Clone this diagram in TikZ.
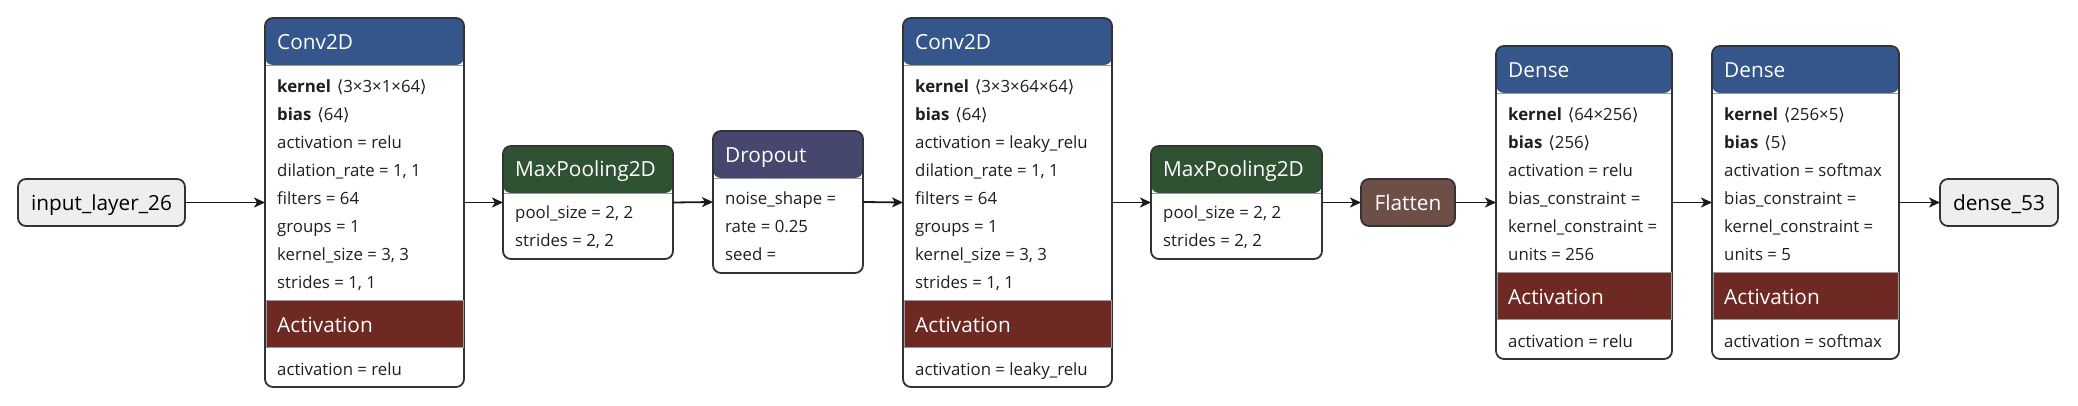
\documentclass[tikz,border=0pt]{standalone}
\usepackage{fontspec}
\setmainfont{Open Sans}
\newfontfamily\brkfont{DejaVu Sans}
\usepackage{tikz}
\usetikzlibrary{arrows.meta}

\definecolor{edgegray}{HTML}{333333}
\definecolor{iofill}{HTML}{EEEEEE}
\definecolor{convblue}{HTML}{34568A}
\definecolor{poolgreen}{HTML}{2F5233}
\definecolor{dropviolet}{HTML}{45476F}
\definecolor{actred}{HTML}{6E2923}
\definecolor{flatbrown}{HTML}{6D4F47}

\newcommand{\shp}[1]{\hspace{0.35em}{\brkfont ⟨}#1{\brkfont ⟩}}

\tikzset{
    layer/.style={draw=edgegray, line width=1.8pt, rounded corners=8pt, fill=white,
        inner sep=0pt, outer sep=0pt, anchor=north west,
        path picture={
            \fill[#1] (path picture bounding box.north west) rectangle ([yshift=-47pt]path picture bounding box.north east);
            \draw[black!40, line width=0.8pt] ([yshift=-47pt]path picture bounding box.north west) -- ([yshift=-47pt]path picture bounding box.north east);
        }},
    io/.style={draw=edgegray, line width=1.8pt, rounded corners=8pt, fill=#1,
        inner sep=0pt, outer sep=0pt, anchor=north west, minimum height=47pt,
        text height=17pt, text depth=0pt, font=\fontsize{20.8}{24}\selectfont},
    actband/.style={fill=actred, draw=black!40, line width=0.6pt, inner sep=0pt, outer sep=0pt,
        anchor=north west, minimum height=47pt},
    title/.style={anchor=base west, text=white, inner sep=0pt, font=\fontsize{20.8}{24}\selectfont},
    prop/.style={anchor=base west, inner sep=0pt, text=black!88, font=\fontsize{16.8}{20}\selectfont},
    flow/.style={draw=black!90, line width=1.8pt}
}

\begin{document}
\begin{tikzpicture}[x=1pt, y=-1pt, >={Stealth[length=11pt, width=10pt, inset=3pt]}]
    \useasboundingbox (0,0) rectangle (2078,406);

    \node[io=iofill, minimum width=167pt] (input) at (18,179) {input\_layer\_26};
    \node[io=flatbrown, text=white, minimum width=94pt] (flatten) at (1361,179) {Flatten};
    \node[io=iofill, minimum width=118pt] (output) at (1940,179) {dense\_53};

    % first conv block
    \node[layer=convblue, minimum width=199pt, minimum height=369pt] (conv1) at (265,18) {};
    \node[actband, minimum width=197.2pt] (conv1act) at (265.9,300) {};
    \node[title] (conv1t) at (277,50) {Conv2D};
    \node[title] (conv1at) at (277,332) {Activation};
    \foreach \t [count=\i from 0] in {{\textbf{kernel}\shp{3×3×1×64}}, {\textbf{bias}\shp{64}}, {activation = relu}, {dilation\_rate = 1, 1}, {filters = 64}, {groups = 1}, {kernel\_size = 3, 3}, {strides = 1, 1}}
        \node[prop] (conv1r\i) at (277,92.5+28*\i) {\t};
    \node[prop] (conv1ar) at (277,375) {activation = relu};

    \node[layer=poolgreen, minimum width=170pt, minimum height=113pt] (pool1) at (503,146) {};
    \node[title] (pool1t) at (515,177) {MaxPooling2D};
    \node[prop] (pool1r0) at (515,219) {pool\_size = 2, 2};
    \node[prop] (pool1r1) at (515,247) {strides = 2, 2};

    \node[layer=dropviolet, minimum width=150pt, minimum height=142pt] (drop) at (713,131) {};
    \node[title] (dropt) at (725,163) {Dropout};
    \foreach \t [count=\i from 0] in {{noise\_shape =}, {rate = 0.25}, {seed =}}
        \node[prop] (dropr\i) at (725,205+28*\i) {\t};

    % second conv block
    \node[layer=convblue, minimum width=209pt, minimum height=369pt] (conv2) at (903,18) {};
    \node[actband, minimum width=207.2pt] (conv2act) at (903.9,300) {};
    \node[title] (conv2t) at (915,50) {Conv2D};
    \node[title] (conv2at) at (915,332) {Activation};
    \foreach \t [count=\i from 0] in {{\textbf{kernel}\shp{3×3×64×64}}, {\textbf{bias}\shp{64}}, {activation = leaky\_relu}, {dilation\_rate = 1, 1}, {filters = 64}, {groups = 1}, {kernel\_size = 3, 3}, {strides = 1, 1}}
        \node[prop] (conv2r\i) at (915,92.5+28*\i) {\t};
    \node[prop] (conv2ar) at (915,375) {activation = leaky\_relu};

    \node[layer=poolgreen, minimum width=171pt, minimum height=113pt] (pool2) at (1151,146) {};
    \node[title] (pool2t) at (1163,177) {MaxPooling2D};
    \node[prop] (pool2r0) at (1163,219) {pool\_size = 2, 2};
    \node[prop] (pool2r1) at (1163,247) {strides = 2, 2};

    % dense blocks
    \node[layer=convblue, minimum width=176pt, minimum height=313pt] (dense1) at (1496,46) {};
    \node[actband, minimum width=174.2pt] (dense1act) at (1496.9,272) {};
    \node[title] (dense1t) at (1508,78) {Dense};
    \node[title] (dense1at) at (1508,304) {Activation};
    \foreach \t [count=\i from 0] in {{\textbf{kernel}\shp{64×256}}, {\textbf{bias}\shp{256}}, {activation = relu}, {bias\_constraint =}, {kernel\_constraint =}, {units = 256}}
        \node[prop] (dense1r\i) at (1508,120.5+28*\i) {\t};
    \node[prop] (dense1ar) at (1508,347) {activation = relu};

    \node[layer=convblue, minimum width=187pt, minimum height=313pt] (dense2) at (1712,46) {};
    \node[actband, minimum width=185.2pt] (dense2act) at (1712.9,272) {};
    \node[title] (dense2t) at (1724,78) {Dense};
    \node[title] (dense2at) at (1724,304) {Activation};
    \foreach \t [count=\i from 0] in {{\textbf{kernel}\shp{256×5}}, {\textbf{bias}\shp{5}}, {activation = softmax}, {bias\_constraint =}, {kernel\_constraint =}, {units = 5}}
        \node[prop] (dense2r\i) at (1724,120.5+28*\i) {\t};
    \node[prop] (dense2ar) at (1724,347) {activation = softmax};

    \draw[->, flow] (input.east) -- (conv1.west);
    \draw[->, flow] (conv1.east) -- (pool1.west);
    \draw[->, flow] (pool1.east) -- (drop.west);
    \draw[->, flow] (drop.east) -- (conv2.west);
    \draw[->, flow] (conv2.east) -- (pool2.west);
    \draw[->, flow] (pool2.east) -- (flatten.west);
    \draw[->, flow] (flatten.east) -- (dense1.west);
    \draw[->, flow] (dense1.east) -- (dense2.west);
    \draw[->, flow] (dense2.east) -- (output.west);

\end{tikzpicture}
\end{document}
